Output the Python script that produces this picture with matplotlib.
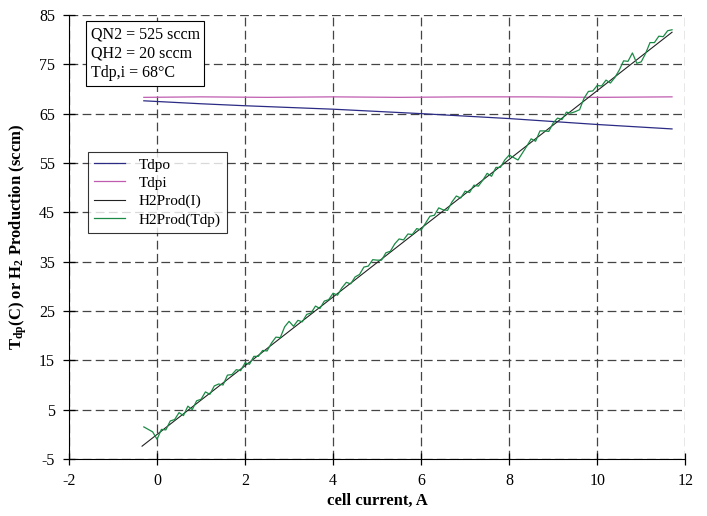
import numpy as np
import matplotlib.pyplot as plt

plt.rcParams['font.family'] = 'Liberation Serif'
plt.rcParams['mathtext.fontset'] = 'custom'
plt.rcParams['mathtext.rm'] = 'Liberation Serif:bold'
plt.rcParams['mathtext.it'] = 'Liberation Serif:bold'
plt.rcParams['mathtext.bf'] = 'Liberation Serif:bold'
plt.rcParams['axes.unicode_minus'] = False

# Tdpo / Tdpi (dew points, C)
tdpo_x = [-0.3, 1, 2, 4, 6, 8, 10, 11.7]
tdpo_y = [67.6, 67.0, 66.6, 65.9, 65.0, 64.0, 62.8, 61.9]
tdpi_x = [-0.3, 1, 2.5, 4, 5.5, 7, 8.5, 10, 11.7]
tdpi_y = [68.3, 68.4, 68.3, 68.4, 68.3, 68.4, 68.4, 68.3, 68.4]

# H2 production from current (sccm)
h2i_x = [-0.34, 11.7]
h2i_y = [-2.4, 81.5]

# H2 production from dew point (sccm), sampled every 0.1 A
h2tdp_x = np.linspace(-0.3, 11.7, 121)
h2tdp_y = [1.5, 1.0, 0.5, -1.0, 1.0, 0.9, 2.7, 3.0, 4.4, 3.8,
           5.7, 5.0, 6.8, 7.1, 8.6, 8.1, 9.8, 10.2, 10.0, 12.0,
           12.1, 13.1, 12.9, 14.5, 14.2, 15.8, 15.8, 17.0, 16.9, 18.5,
           19.7, 19.6, 21.8, 22.9, 21.9, 23.1, 22.8, 24.3, 24.6, 26.0,
           25.5, 27.0, 27.3, 28.6, 28.2, 29.7, 30.8, 30.5, 31.9, 32.4,
           33.9, 34.1, 35.4, 35.3, 35.3, 36.8, 37.1, 38.6, 39.6, 39.4,
           40.6, 40.5, 41.7, 41.4, 42.8, 44.2, 44.4, 45.9, 45.5, 45.4,
           47.1, 48.3, 47.9, 49.3, 49.0, 50.5, 50.3, 51.5, 52.9, 52.3,
           54.1, 54.1, 55.6, 56.6, 56.1, 55.6, 57.0, 58.4, 59.9, 59.4,
           61.5, 61.5, 61.4, 63.1, 64.1, 63.8, 65.3, 65.1, 65.4, 65.8,
           68.1, 69.5, 69.6, 70.7, 70.6, 71.8, 71.2, 72.3, 73.8, 75.7,
           75.6, 77.3, 75.2, 75.5, 77.2, 79.4, 79.4, 80.7, 80.6, 81.8,
           82.0]

info = 'QN2 = 525 sccm\nQH2 = 20 sccm\nTdp,i = 68\u00b0C'

fig = plt.figure(figsize=(7.07, 5.16), dpi=100)
ax = fig.add_axes([0.0976, 0.1105, 0.8716, 0.8605])

ax.plot(tdpo_x, tdpo_y, color='#2b2b85', lw=0.9, label='Tdpo')
ax.plot(tdpi_x, tdpi_y, color='#c05cb0', lw=0.9, label='Tdpi')
ax.plot(h2i_x, h2i_y, color='#222222', lw=0.8, label='H2Prod(I)')
ax.plot(h2tdp_x, h2tdp_y, color='#1a8a45', lw=0.9, label='H2Prod(Tdp)')

ax.set_xlim(-2, 12)
ax.set_ylim(-5, 85)
ax.set_xticks(np.arange(-2, 13, 2))
ax.set_yticks(np.arange(-5, 86, 10))
ax.grid(True, color='#444444', lw=0.9, linestyle=(0, (7, 3.5)))
ax.set_axisbelow(True)
ax.spines['top'].set_visible(False)
ax.spines['right'].set_visible(False)
ax.tick_params(direction='inout', length=8, labelsize=11.5, width=0.9, pad=6)

ax.set_xlabel('cell current, A', fontsize=12, fontweight='bold', labelpad=3)
ax.set_ylabel(r'T$_{dp}$(C) or H$_2$ Production (sccm)', fontsize=12,
              fontweight='bold', labelpad=7)

ax.text(0.035, 0.975, info, transform=ax.transAxes, fontsize=11.5, va='top',
        ha='left', linespacing=1.3,
        bbox=dict(boxstyle='square,pad=0.3', fc='white', ec='black', lw=0.8))

leg = ax.legend(loc='upper left', bbox_to_anchor=(0.031, 0.692), fontsize=11,
                frameon=True, fancybox=False, edgecolor='black',
                borderaxespad=0, handlelength=2.0, handletextpad=0.9,
                borderpad=0.4, labelspacing=0.3)
leg.get_frame().set_linewidth(0.8)

plt.savefig('out.png', dpi=100)
